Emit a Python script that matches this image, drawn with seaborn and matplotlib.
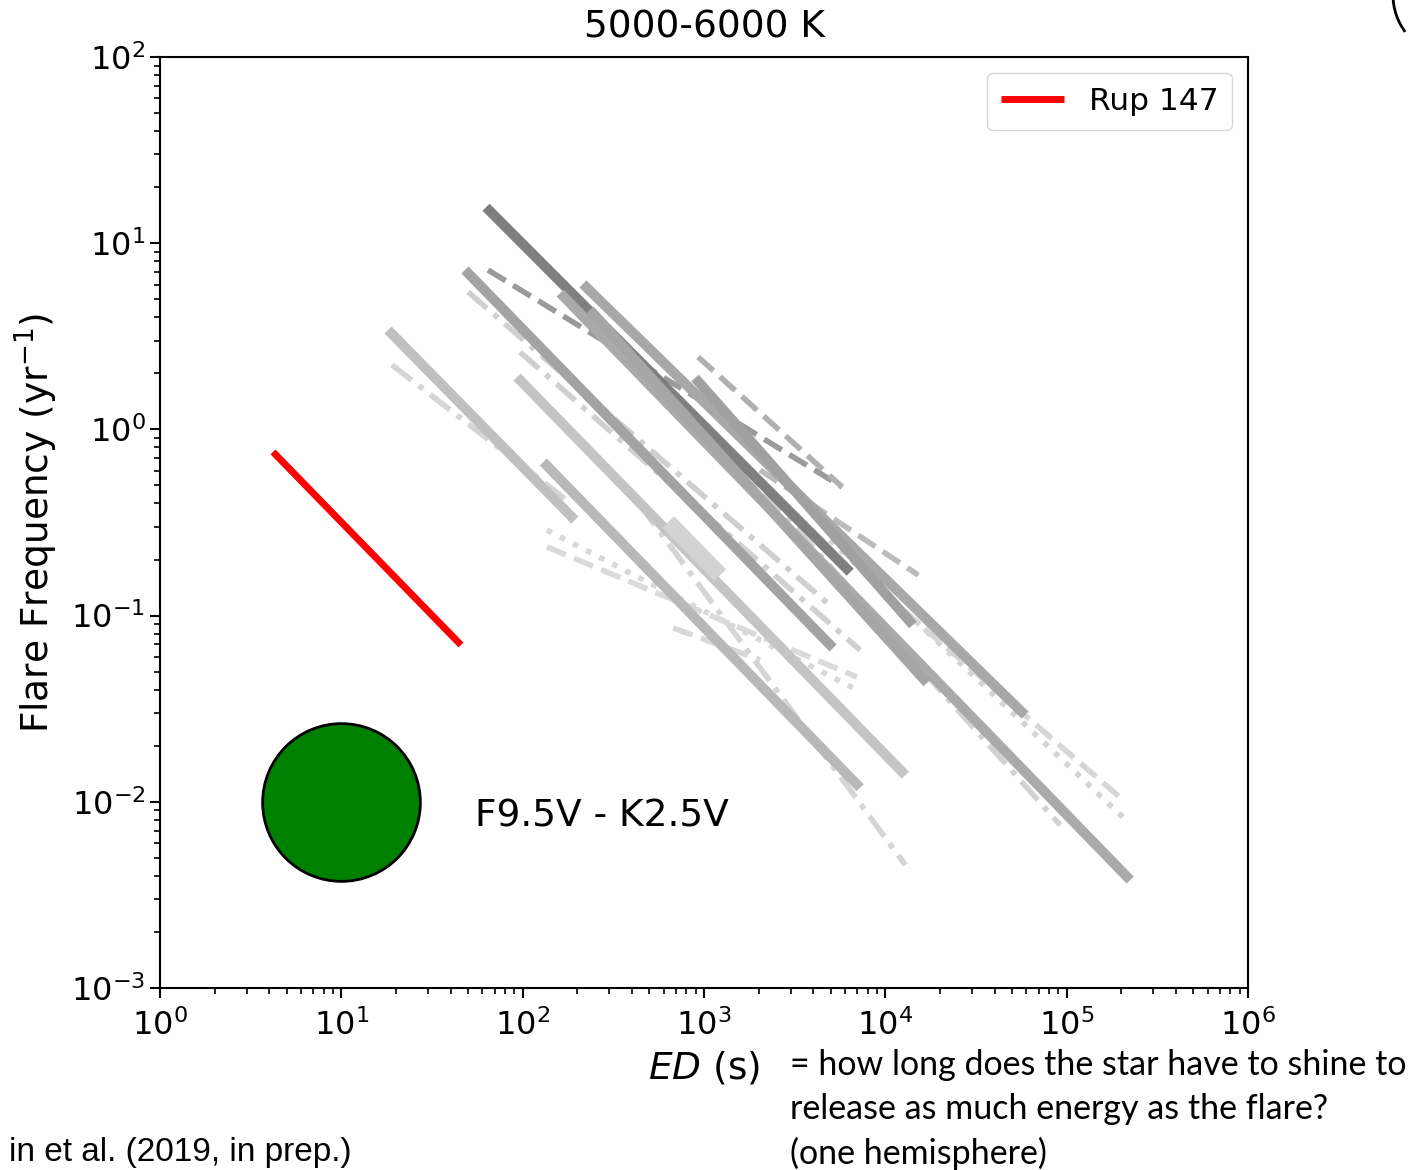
import numpy as np
import pandas as pd
import matplotlib
matplotlib.use('Agg')
import matplotlib.pyplot as plt
from matplotlib.patches import Arc
import seaborn as sns

# power law fits of single stars: ED range (s) and flare frequency at both ends (1/yr)
ed_start = [62.8, 48.1, 215, 161, 893, 18.1, 93.1, 130, 634, 235,
            64.4, 928, 2040, 19.0, 50.0, 96.8, 444, 136, 136, 676, 4960, 9360, 951]
ed_end = [6400, 5150, 59000, 224000, 14200, 194, 12900, 7260, 1227, 17000,
          5780, 5780, 15200, 183, 4780, 7260, 12900, 6990, 6990, 2040, 218000, 205000, 92100]
freq_start = [15.6, 7.18, 6.04, 5.40, 1.89, 3.42, 1.91, 0.668, 0.318, 4.38,
              7.18, 2.45, 0.605, 2.22, 5.47, 2.60, 0.393, 0.288, 0.234, 0.0858, 0.255, 0.137, 1.12]
freq_end = [0.171, 0.067, 0.0292, 0.0038, 0.0891, 0.326, 0.0139, 0.0119, 0.165, 0.0435,
            0.491, 0.491, 0.165, 0.403, 0.117, 0.0653, 0.00458, 0.0398, 0.0468, 0.0578, 0.00778, 0.0102, 0.0075]

# Rup 147 fit
rup_ed = [4.2, 45.7]
rup_freq = [0.757, 0.0695]

# spectral type marker
star_ed = [10]
star_freq = [0.01]
spt_label = "F9.5V - K2.5V"

# axis decades
x_ticks = [1, 1e1, 1e2, 1e3, 1e4, 1e5, 1e6]
y_ticks = [1e-3, 1e-2, 1e-1, 1, 1e1, 1e2]

# styles per fit
line_grey = ['#7f7f7f', '#a3a3a3', '#a8a8a8', '#aaaaaa', '#a0a0a0', '#c0c0c0', '#c4c4c4', '#b8b8b8', '#d3d3d3', '#a6a6a6',
             '#9a9a9a', '#b0b0b0', '#bbbbbb', '#d5d5d5', '#cfcfcf', '#d0d0d0', '#d5d5d5', '#d8d8d8', '#dadada', '#d8d8d8',
             '#d3d3d3', '#d6d6d6', '#d2d2d2']
line_kind = ['-'] * 10 + ['--', '--', '--', '-.', '-.', '-.', '-.', ':', '--', '--', ':', '--', '-.']
line_width = [7.2, 7.2, 7.2, 7.2, 7.2, 7.2, 7.2, 7.2, 12, 7.2] + [4.0] * 13

dash_map = {'-': '', '--': (3.7, 1.6), '-.': (4.5, 1.6, 1.0, 1.6), ':': (1.0, 1.65)}

rows = []
for i in range(len(ed_start)):
    rows.append({'fit': i, 'ED': ed_start[i], 'freq': freq_start[i]})
    rows.append({'fit': i, 'ED': ed_end[i], 'freq': freq_end[i]})
df = pd.DataFrame(rows)

# draw dashed fits first, solid fits on top
order = [i for i in range(len(ed_start)) if line_kind[i] != '-'] + [i for i in range(len(ed_start)) if line_kind[i] == '-']

sns.set_style('ticks')
plt.rcParams['font.family'] = ['DejaVu Sans']
plt.rcParams['text.color'] = 'black'
plt.rcParams['axes.labelcolor'] = 'black'
plt.rcParams['xtick.color'] = 'black'
plt.rcParams['ytick.color'] = 'black'

fig = plt.figure(figsize=(14.22, 11.70), dpi=100)
ax = fig.add_axes([160 / 1422, 1 - 988 / 1170, 1088 / 1422, 931 / 1170])

sns.lineplot(data=df, x='ED', y='freq', hue='fit', style='fit', size='fit',
             hue_order=order, style_order=order, size_order=order,
             palette={i: line_grey[i] for i in range(len(ed_start))},
             dashes={i: dash_map[line_kind[i]] for i in range(len(ed_start))},
             sizes={i: line_width[i] for i in range(len(ed_start))},
             estimator=None, sort=False, legend=False, ax=ax,
             solid_capstyle='butt', dash_capstyle='butt')

sns.lineplot(x=rup_ed, y=rup_freq, color='red', linewidth=5, label='Rup 147', ax=ax,
             solid_capstyle='butt')

sns.scatterplot(x=star_ed, y=star_freq, s=12900, color='green', edgecolor='black',
                linewidth=2, zorder=5, ax=ax)
ax.text(54.6, 0.0083, spt_label, fontsize=27, va='center', ha='left')

ax.set_xscale('log')
ax.set_yscale('log')
ax.set_xticks(x_ticks)
ax.set_yticks(y_ticks)
ax.set_xlim(1, 1e6)
ax.set_ylim(1e-3, 1e2)

for s in ax.spines.values():
    s.set_linewidth(1.5)
    s.set_color('black')
ax.tick_params(which='major', length=7, width=1.5, labelsize=23, direction='out')
ax.tick_params(which='minor', length=4, width=1.2, direction='out')
ax.tick_params(axis='x', pad=8)

ax.set_title('5000-6000 K', fontsize=27, pad=14)
ax.set_ylabel('Flare Frequency (yr$^{-1}$)', fontsize=27, labelpad=8)
ax.set_xlabel('$ED$ (s)', fontsize=27, labelpad=6)

ax.legend(loc='upper right', fontsize=22.5, handlelength=2.0, borderpad=0.45,
          borderaxespad=0.5, fancybox=True)

note_lines = ['= how long does the star have to shine to',
              'release as much energy as the flare?',
              '(one hemisphere)']
for k, line in enumerate(note_lines):
    fig.text(790 / 1422, 1 - (1065 + 44 * k) / 1170, line, fontsize=24.5,
             family=['Lato', 'DejaVu Sans'], va='center', ha='left')

fig.text(352 / 1422, 1 - 1153 / 1170, 'in et al. (2019, in prep.)', fontsize=24,
         family=['Liberation Sans', 'DejaVu Sans'], va='center', ha='right')

fig.add_artist(Arc((1455 / 1422, 1 - (-5) / 1170), 124 / 1422, 124 / 1170,
                   theta1=180, theta2=222, transform=fig.transFigure,
                   color='black', linewidth=2))

fig.savefig('out.png', dpi=100)
